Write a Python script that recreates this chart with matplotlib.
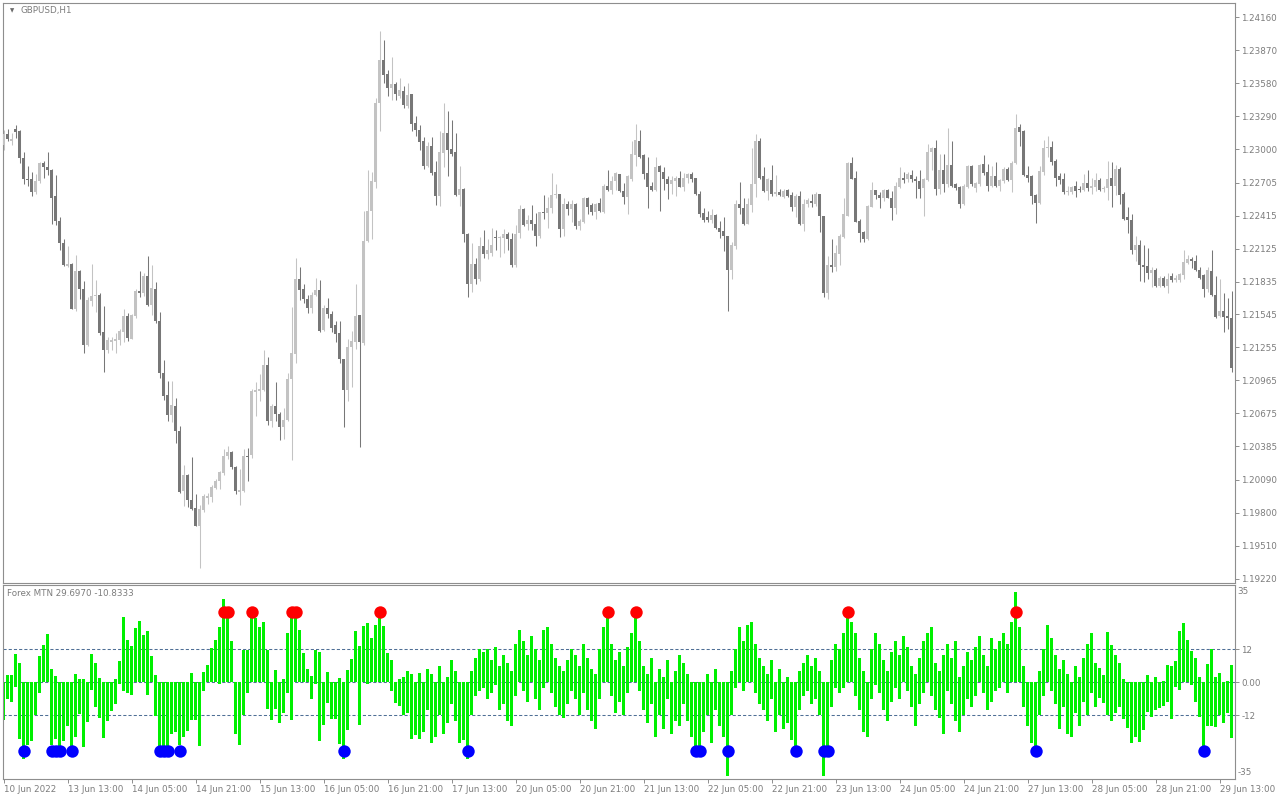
import matplotlib
matplotlib.use("Agg")
import matplotlib.pyplot as plt

# ---------------- data ----------------
symbol_title = "GBPUSD,H1"
indicator_title = "Forex MTN 29.6970 -10.8333"

opens = [
1.2304,1.2313,1.2307,1.2318,1.2316,1.2292,1.2274,1.2274,1.2262,1.2272,
1.2288,1.2284,1.2282,1.2259,1.2237,1.2217,1.2197,1.2199,1.2159,1.2193,
1.2177,1.2128,1.2166,1.2171,1.2172,1.2139,1.2123,1.2130,1.2131,1.2132,
1.2139,1.2153,1.2133,1.2153,1.2175,1.2173,1.2188,1.2163,1.2177,1.2149,
1.2103,1.2084,1.2066,1.2074,1.2052,1.1999,1.2013,1.1991,1.1984,1.1968,
1.1982,1.1993,1.1994,1.2002,1.2008,1.2015,1.2030,1.2033,1.2020,1.1998,
1.1999,1.2030,1.2031,1.2086,1.2087,1.2088,1.2110,1.2061,1.2074,1.2067,
1.2055,1.2062,1.2098,1.2120,1.2186,1.2177,1.2168,1.2160,1.2172,1.2176,
1.2141,1.2160,1.2155,1.2145,1.2138,1.2115,1.2088,1.2126,1.2130,1.2154,
1.2129,1.2219,1.2246,1.2271,1.2341,1.2379,1.2366,1.2354,1.2357,1.2347,
1.2351,1.2338,1.2349,1.2323,1.2317,1.2307,1.2285,1.2303,1.2280,1.2259,
1.2297,1.2314,1.2300,1.2298,1.2260,1.2265,1.2225,1.2181,1.2199,1.2186,
1.2215,1.2208,1.2209,1.2223,1.2222,1.2222,1.2225,1.2221,1.2198,1.2226,
1.2247,1.2234,1.2238,1.2234,1.2224,1.2245,1.2244,1.2248,1.2260,1.2261,
1.2230,1.2252,1.2247,1.2252,1.2232,1.2236,1.2257,1.2251,1.2245,1.2253,
1.2245,1.2268,1.2264,1.2272,1.2278,1.2263,1.2258,1.2274,1.2295,1.2307,
1.2295,1.2279,1.2268,1.2264,1.2285,1.2280,1.2274,1.2269,1.2272,1.2275,
1.2267,1.2275,1.2278,1.2275,1.2261,1.2244,1.2240,1.2238,1.2242,1.2231,
1.2228,1.2224,1.2194,1.2215,1.2252,1.2248,1.2234,1.2251,1.2269,1.2307,
1.2276,1.2263,1.2273,1.2261,1.2262,1.2258,1.2264,1.2260,1.2249,1.2259,
1.2234,1.2252,1.2254,1.2252,1.2261,1.2241,1.2173,1.2198,1.2196,1.2208,
1.2223,1.2241,1.2288,1.2275,1.2237,1.2227,1.2221,1.2249,1.2264,1.2260,
1.2257,1.2264,1.2257,1.2248,1.2267,1.2275,1.2274,1.2277,1.2274,1.2272,
1.2266,1.2273,1.2298,1.2301,1.2265,1.2282,1.2269,1.2286,1.2269,1.2267,
1.2252,1.2267,1.2285,1.2266,1.2269,1.2287,1.2280,1.2268,1.2276,1.2268,
1.2272,1.2283,1.2273,1.2288,1.2320,1.2316,1.2277,1.2276,1.2260,1.2253,
1.2280,1.2301,1.2302,1.2290,1.2276,1.2274,1.2262,1.2262,1.2268,1.2265,
1.2264,1.2270,1.2266,1.2267,1.2273,1.2265,1.2266,1.2275,1.2268,1.2283,
1.2261,1.2240,1.2238,1.2211,1.2216,1.2198,1.2197,1.2191,1.2194,1.2180,
1.2187,1.2180,1.2188,1.2185,1.2185,1.2189,1.2200,1.2203,1.2202,1.2194,
1.2189,1.2177,1.2193,1.2172,1.2153,1.2158,1.2153,1.2151]

highs = [
1.2317,1.2318,1.2314,1.2321,1.2317,1.2298,1.2285,1.2280,1.2278,1.2289,
1.2290,1.2298,1.2283,1.2277,1.2240,1.2221,1.2215,1.2200,1.2207,1.2194,
1.2184,1.2170,1.2199,1.2185,1.2173,1.2162,1.2135,1.2135,1.2138,1.2142,
1.2159,1.2156,1.2155,1.2177,1.2193,1.2191,1.2206,1.2198,1.2183,1.2157,
1.2114,1.2096,1.2096,1.2081,1.2056,1.2022,1.2014,1.2029,1.1996,1.1987,
1.1996,1.1997,1.2004,1.2010,1.2017,1.2036,1.2039,1.2034,1.2021,1.2018,
1.2036,1.2037,1.2089,1.2095,1.2102,1.2123,1.2117,1.2076,1.2095,1.2069,
1.2072,1.2103,1.2161,1.2204,1.2196,1.2181,1.2172,1.2174,1.2187,1.2185,
1.2163,1.2169,1.2158,1.2149,1.2149,1.2115,1.2133,1.2140,1.2181,1.2154,
1.2246,1.2282,1.2280,1.2345,1.2404,1.2396,1.2370,1.2381,1.2359,1.2363,
1.2356,1.2358,1.2349,1.2329,1.2321,1.2311,1.2306,1.2311,1.2290,1.2316,
1.2341,1.2334,1.2326,1.2314,1.2285,1.2266,1.2226,1.2217,1.2204,1.2223,
1.2229,1.2221,1.2231,1.2229,1.2224,1.2230,1.2227,1.2226,1.2233,1.2251,
1.2248,1.2242,1.2251,1.2244,1.2245,1.2260,1.2258,1.2279,1.2269,1.2261,
1.2257,1.2254,1.2255,1.2253,1.2239,1.2258,1.2258,1.2253,1.2253,1.2257,
1.2269,1.2282,1.2276,1.2280,1.2278,1.2270,1.2277,1.2307,1.2322,1.2317,
1.2296,1.2293,1.2271,1.2293,1.2286,1.2284,1.2276,1.2276,1.2276,1.2281,
1.2279,1.2279,1.2280,1.2275,1.2263,1.2248,1.2246,1.2247,1.2243,1.2237,
1.2240,1.2224,1.2218,1.2255,1.2271,1.2257,1.2257,1.2301,1.2313,1.2310,
1.2284,1.2275,1.2286,1.2277,1.2265,1.2265,1.2265,1.2262,1.2261,1.2263,
1.2256,1.2257,1.2261,1.2262,1.2261,1.2241,1.2206,1.2221,1.2216,1.2225,
1.2257,1.2289,1.2293,1.2281,1.2239,1.2228,1.2251,1.2271,1.2264,1.2262,
1.2265,1.2265,1.2263,1.2271,1.2284,1.2280,1.2280,1.2282,1.2276,1.2282,
1.2275,1.2305,1.2302,1.2308,1.2296,1.2296,1.2319,1.2307,1.2270,1.2268,
1.2269,1.2286,1.2286,1.2271,1.2287,1.2295,1.2287,1.2285,1.2289,1.2274,
1.2284,1.2284,1.2290,1.2331,1.2322,1.2317,1.2285,1.2277,1.2261,1.2285,
1.2308,1.2312,1.2307,1.2291,1.2279,1.2279,1.2268,1.2268,1.2272,1.2268,
1.2278,1.2282,1.2275,1.2279,1.2275,1.2268,1.2290,1.2289,1.2286,1.2284,
1.2262,1.2249,1.2243,1.2224,1.2220,1.2216,1.2213,1.2196,1.2195,1.2188,
1.2188,1.2191,1.2191,1.2189,1.2191,1.2211,1.2207,1.2205,1.2207,1.2196,
1.2190,1.2196,1.2211,1.2188,1.2186,1.2173,1.2169,1.2175]

lows = [
1.2299,1.2307,1.2304,1.2310,1.2288,1.2269,1.2268,1.2259,1.2261,1.2270,
1.2275,1.2277,1.2234,1.2233,1.2211,1.2197,1.2196,1.2159,1.2158,1.2168,
1.2121,1.2127,1.2162,1.2157,1.2136,1.2104,1.2121,1.2123,1.2121,1.2128,
1.2130,1.2131,1.2133,1.2151,1.2170,1.2171,1.2162,1.2154,1.2147,1.2099,
1.2079,1.2061,1.2060,1.2041,1.1997,1.1986,1.1985,1.1982,1.1968,1.1931,
1.1981,1.1988,1.1989,1.2001,1.2001,1.2013,1.2027,1.2018,1.1996,1.1987,
1.1998,1.2008,1.2028,1.2065,1.2078,1.2087,1.2057,1.2055,1.2061,1.2044,
1.2045,1.2061,1.2026,1.2112,1.2167,1.2165,1.2156,1.2156,1.2171,1.2139,
1.2140,1.2151,1.2139,1.2130,1.2112,1.2055,1.2078,1.2091,1.2124,1.2038,
1.2128,1.2218,1.2221,1.2266,1.2316,1.2358,1.2347,1.2343,1.2343,1.2345,
1.2336,1.2336,1.2316,1.2312,1.2299,1.2283,1.2284,1.2277,1.2251,1.2250,
1.2284,1.2276,1.2294,1.2259,1.2250,1.2218,1.2170,1.2174,1.2181,1.2184,
1.2204,1.2203,1.2206,1.2211,1.2205,1.2209,1.2211,1.2196,1.2196,1.2222,
1.2232,1.2229,1.2229,1.2215,1.2222,1.2239,1.2231,1.2244,1.2257,1.2223,
1.2224,1.2242,1.2236,1.2230,1.2229,1.2235,1.2243,1.2242,1.2239,1.2245,
1.2244,1.2263,1.2261,1.2264,1.2262,1.2252,1.2243,1.2272,1.2285,1.2292,
1.2274,1.2248,1.2263,1.2263,1.2246,1.2264,1.2256,1.2261,1.2259,1.2267,
1.2263,1.2270,1.2271,1.2260,1.2240,1.2236,1.2236,1.2235,1.2230,1.2222,
1.2210,1.2158,1.2186,1.2212,1.2243,1.2233,1.2234,1.2245,1.2258,1.2274,
1.2262,1.2255,1.2259,1.2259,1.2259,1.2257,1.2258,1.2246,1.2240,1.2233,
1.2228,1.2249,1.2249,1.2250,1.2227,1.2170,1.2168,1.2192,1.2193,1.2198,
1.2222,1.2241,1.2274,1.2236,1.2218,1.2218,1.2220,1.2249,1.2256,1.2248,
1.2254,1.2257,1.2238,1.2243,1.2266,1.2270,1.2271,1.2271,1.2257,1.2257,
1.2241,1.2272,1.2282,1.2260,1.2261,1.2262,1.2267,1.2267,1.2264,1.2248,
1.2251,1.2266,1.2268,1.2262,1.2268,1.2277,1.2263,1.2267,1.2267,1.2263,
1.2270,1.2272,1.2262,1.2287,1.2303,1.2276,1.2271,1.2252,1.2235,1.2252,
1.2277,1.2293,1.2286,1.2268,1.2269,1.2261,1.2260,1.2261,1.2258,1.2262,
1.2263,1.2263,1.2261,1.2263,1.2263,1.2262,1.2255,1.2249,1.2260,1.2252,
1.2238,1.2226,1.2208,1.2202,1.2184,1.2183,1.2186,1.2179,1.2179,1.2179,
1.2179,1.2173,1.2183,1.2183,1.2183,1.2186,1.2199,1.2195,1.2193,1.2186,
1.2170,1.2174,1.2171,1.2151,1.2152,1.2139,1.2142,1.2104]

closes = [
1.2313,1.2309,1.2309,1.2315,1.2292,1.2274,1.2273,1.2262,1.2272,1.2288,
1.2284,1.2282,1.2257,1.2237,1.2217,1.2198,1.2199,1.2159,1.2193,1.2177,
1.2128,1.2167,1.2171,1.2172,1.2138,1.2123,1.2132,1.2132,1.2133,1.2140,
1.2153,1.2134,1.2154,1.2175,1.2173,1.2188,1.2163,1.2178,1.2149,1.2103,
1.2083,1.2066,1.2075,1.2052,1.1998,1.2013,1.1991,1.1983,1.1968,1.1983,
1.1995,1.1995,1.2003,1.2008,1.2016,1.2030,1.2033,1.2020,1.1999,1.2000,
1.2030,1.2029,1.2087,1.2088,1.2089,1.2110,1.2061,1.2074,1.2067,1.2055,
1.2062,1.2098,1.2121,1.2186,1.2176,1.2168,1.2160,1.2172,1.2176,1.2140,
1.2160,1.2155,1.2143,1.2137,1.2115,1.2088,1.2126,1.2131,1.2153,1.2130,
1.2219,1.2246,1.2272,1.2341,1.2379,1.2365,1.2354,1.2357,1.2349,1.2352,
1.2339,1.2348,1.2322,1.2317,1.2306,1.2285,1.2303,1.2279,1.2259,1.2298,
1.2314,1.2299,1.2296,1.2260,1.2265,1.2225,1.2181,1.2199,1.2186,1.2215,
1.2208,1.2211,1.2216,1.2222,1.2223,1.2225,1.2221,1.2198,1.2225,1.2247,
1.2233,1.2238,1.2234,1.2224,1.2245,1.2244,1.2248,1.2260,1.2261,1.2230,
1.2252,1.2247,1.2252,1.2232,1.2237,1.2257,1.2249,1.2245,1.2252,1.2246,
1.2268,1.2264,1.2272,1.2279,1.2263,1.2258,1.2276,1.2296,1.2308,1.2293,
1.2278,1.2267,1.2264,1.2284,1.2280,1.2274,1.2269,1.2273,1.2275,1.2267,
1.2275,1.2278,1.2274,1.2261,1.2243,1.2238,1.2238,1.2242,1.2231,1.2227,
1.2224,1.2194,1.2216,1.2252,1.2248,1.2234,1.2252,1.2269,1.2307,1.2275,
1.2263,1.2274,1.2261,1.2262,1.2260,1.2263,1.2259,1.2249,1.2259,1.2234,
1.2252,1.2255,1.2253,1.2261,1.2241,1.2173,1.2198,1.2196,1.2209,1.2224,
1.2243,1.2288,1.2274,1.2236,1.2226,1.2221,1.2250,1.2264,1.2260,1.2257,
1.2264,1.2257,1.2248,1.2268,1.2275,1.2273,1.2278,1.2274,1.2272,1.2265,
1.2274,1.2298,1.2301,1.2265,1.2282,1.2269,1.2286,1.2268,1.2266,1.2252,
1.2268,1.2285,1.2269,1.2270,1.2286,1.2279,1.2268,1.2276,1.2268,1.2273,
1.2283,1.2273,1.2288,1.2319,1.2315,1.2277,1.2275,1.2259,1.2253,1.2281,
1.2301,1.2302,1.2289,1.2275,1.2273,1.2262,1.2263,1.2267,1.2263,1.2264,
1.2270,1.2266,1.2268,1.2273,1.2264,1.2266,1.2274,1.2268,1.2283,1.2260,
1.2239,1.2238,1.2211,1.2216,1.2198,1.2196,1.2191,1.2194,1.2180,1.2187,
1.2180,1.2186,1.2185,1.2187,1.2190,1.2201,1.2203,1.2202,1.2194,1.2187,
1.2177,1.2194,1.2172,1.2152,1.2158,1.2152,1.2151,1.2107]

# histogram: each bar spans from hist_low to hist_high
hist_high = [
0,2.5,2.5,10.3,7.0,0,0,0,0,9.5, 13.5,17.6,4.8,2.2,0,0,0,0,3.0,1.2,
1.2,0,10.3,7.0,1.6,0,0,0,1.2,7.6, 23.6,15.3,13.1,19.8,22.2,17.3,18.8,9.5,2.5,0,
0,0,0,0,0,0,0,3.4,0,0, 3.8,6.4,12.5,15.3,20.0,30.3,24.0,15.2,0,0,
11.9,11.9,23.6,23.4,20.0,21.9,11.9,0,4.6,0, 1.3,17.9,23.4,23.6,19.2,10.7,4.8,2.4,11.9,11.0,
0,3.8,0,0,1.6,0,4.6,8.5,18.8,13.1, 20.4,21.6,16.1,21.0,23.4,20.4,10.7,8.2,0,1.3,
1.8,4.2,3.0,0,3.4,
0,5,3,0,6,0,2,8,4,0, 0,0,4,9,12,
11,12,8,13,6,10,7,4,14,19, 15,10,17,12,8,19,20,14,9,6,
4,8,12,10,6,14,9,5,3,12, 20,26,14,8,11,6,13,18,26,15,
6,3,9,0,5,2,8,0,4,10, 7,3,0,0,0,0,3,0,5,0,
0,0,4,12,20,15,21,22,14,9, 6,3,8,0,5,0,2,0,0,4,
7,10,6,9,4,0,0,8,14,12, 18,27,22,18,9,4,0,12,18,14,
8,4,11,15,10,17,13,6,3,9, 15,18,20,7,4,10,14,9,15,2,
6,11,8,13,17,10,6,16,12,15, 18,14,22,33,20,6,0,0,0,4,
12,21,16,10,5,8,3,0,6,2, 9,14,18,7,
5.1,2.7,18.2,13.6,9.9,6.9,1.2,0,0,0, 0,0,2.7,0,2.0,0,0.5,6.3,5.9,7.7,
18.7,21.7,15.4,11.4,9.0,2.0,0,6.7,12.0,2.0, 3.3,0,0.5,6.3]
hist_low = [
-13.6,-6.0,-7.2,-1.8,-20.6,-28.1,-22.7,-21.5,-12.0,-3.9, 0,0,-22.7,-20.8,-23.6,-21.5,-15.8,-27.3,-19.9,-11.5,
-23.6,-14.4,-2.7,-9.1,-13.0,-20.2,-14.2,-10.3,-7.9,-0.8, -3.3,-3.9,-4.8,0,0,0,-4.5,0,-12.4,-23.3,
-23.3,-23.6,-19.0,-18.0,-22.7,-20.0,-17.8,-13.6,-13.9,-23.3, -3.3,0,0,0,-0.8,0,0,0,-19.0,-22.9,
-11.8,-3.9,0,0,0,0,-9.9,-13.6,-9.9,-14.8, -11.2,-3.9,-13.9,0,0,0,0,-6.1,-0.8,-21.2,
-15.4,-7.5,-13.2,-13.2,-22.4,-28.0,-17.2,0,0,-15.6, 0,-0.8,0,0,0,0,0,-3.3,-7.5,-8.7,
-11.8,-11.2,-20.8,-19.3,-20.6,
-18,-10,-22,-20,-12,-19,-15,-8,-14,-22, -21,-28,-12,-5,-3,
-2,-6,-4,-1,-10,-8,-14,-16,-5,0, -3,-7,0,-6,-10,-2,0,-4,-9,-12,
-13,-8,-3,-6,-12,-4,-10,-14,-17,-6, 0,0,-5,-11,-7,-12,-4,0,0,-3,
-10,-15,-8,-20,-12,-17,-6,-19,-14,-16, -8,-14,-20,-26,-25,-18,-12,-22,-10,-16,
-20,-34,-12,-2,0,-3,0,0,-4,-8, -10,-14,-6,-18,-12,-17,-15,-21,-26,-10,
-5,-3,-8,-6,-12,-34,-26,-9,-2,-4, -2,0,0,-5,-10,-18,-20,-6,-1,-4,
-10,-14,-7,-2,-6,0,-3,-9,-16,-8, -4,0,-5,-10,-13,-19,-3,-8,-14,-18,
-12,-6,-9,-5,0,-4,-10,-7,-3,-2, 0,-4,0,0,0,-9,-16,-22,-27,-12,
-5,0,-3,-8,-17,-9,-19,-20,-11,-16, -7,-12,-4,-9,
-5.8,-7.4,-11.9,-14.0,-11.1,-8.9,-13.5,-16.7,-22.2,-19.8, -21.9,-17.3,-10.7,-12.5,-10.1,-9.5,-8.6,-7.0,-13.5,-1.8,
-2.8,0,0,-1.0,-7.0,-12.5,-27.0,-15.8,-15.8,-16.4, -11.9,-14.7,-11.1,-20.4]

red_dot_bars = [55, 56, 62, 72, 73, 94, 151, 158, 211, 253]
blue_dot_bars = [5, 12, 13, 14, 17, 39, 40, 41, 44, 85, 116, 173, 174, 181, 198, 205, 206, 258, 300]
red_dot_level = 25.5
blue_dot_level = -25.0

price_ticks = [1.24160, 1.23870, 1.23580, 1.23290, 1.23000, 1.22705, 1.22415,
               1.22125, 1.21835, 1.21545, 1.21255, 1.20965, 1.20675, 1.20385,
               1.20090, 1.19800, 1.19510, 1.19220]
ind_ticks = [12, 0, -12]
ind_tick_labels = ["12", "0.00", "-12"]
ind_levels = [12, 0, -12]
time_labels = ["10 Jun 2022", "13 Jun 13:00", "14 Jun 05:00", "14 Jun 21:00",
               "15 Jun 13:00", "16 Jun 05:00", "16 Jun 21:00", "17 Jun 13:00",
               "20 Jun 05:00", "20 Jun 21:00", "21 Jun 13:00", "22 Jun 05:00",
               "22 Jun 21:00", "23 Jun 13:00", "24 Jun 05:00", "24 Jun 21:00",
               "27 Jun 13:00", "28 Jun 05:00", "28 Jun 21:00", "29 Jun 13:00"]
time_label_step = 16

# ---------------- style ----------------
BULL = "#c3c3c3"
BEAR = "#777777"
GREEN = "#00f000"
FRAME = "#8e8e8e"
TXT = "#7c7c7c"
LEVEL = "#4f6f96"
FS = 6.3

W, H = 1280, 800
plt.rcParams["font.family"] = ["DejaVu Sans"]
fig = plt.figure(figsize=(W / 100, H / 100), dpi=100)
fig.patch.set_facecolor("white")

def frac_rect(x0, y0, x1, y1):
    return [x0 / W, 1 - y1 / H, (x1 - x0) / W, (y1 - y0) / H]

ax = fig.add_axes(frac_rect(2.5, 2.5, 1234.5, 582.5))
ax2 = fig.add_axes(frac_rect(2.5, 585.0, 1234.5, 779.0))

n = len(closes)
xlim = (-0.25, 307.75)

# ---- candles ----
for i in range(n):
    o, h, l, c = opens[i], highs[i], lows[i], closes[i]
    col = BULL if c >= o else BEAR
    ax.vlines(i, l, h, color=col, linewidth=0.75, zorder=2)
    lo, hi = min(o, c), max(o, c)
    hgt = max(hi - lo, 0.00006)
    ax.bar(i, hgt, bottom=lo, width=0.75, color=col, linewidth=0, zorder=3)

ax.set_xlim(*xlim)
ax.set_ylim(1.19185, 1.24292)
ax.yaxis.tick_right()
ax.set_yticks(price_ticks)
ax.set_yticklabels([f"{p:.5f}" for p in price_ticks])
ax.tick_params(axis="y", direction="out", length=3, width=0.7, colors=FRAME,
               labelcolor=TXT, labelsize=FS, pad=2)
ax.set_xticks([])
for s in ax.spines.values():
    s.set_color(FRAME)
    s.set_linewidth(0.8)
ax.text(18 / 1232, 1 - 8 / 580, symbol_title, transform=ax.transAxes,
        fontsize=FS, color=TXT, va="center", ha="left")
ax.text(7 / 1232, 1 - 8 / 580, "\u25bc", transform=ax.transAxes,
        fontsize=4, color="#6a6a6a", va="center", ha="left")

# ---- indicator ----
m = min(len(hist_high), len(hist_low))
hx = list(range(m))
heights = [hist_high[i] - hist_low[i] for i in hx]
ax2.bar(hx, heights, bottom=hist_low[:m], width=0.78,
        color=GREEN, linewidth=0, zorder=2)
for lv in ind_levels:
    ax2.axhline(lv, color=LEVEL, linewidth=0.75, linestyle=(0, (3, 2)), zorder=1)
ax2.scatter(red_dot_bars, [red_dot_level] * len(red_dot_bars), s=80,
            color="#ff0000", zorder=4, linewidths=0)
ax2.scatter(blue_dot_bars, [blue_dot_level] * len(blue_dot_bars), s=80,
            color="#0000ff", zorder=4, linewidths=0)
ax2.set_xlim(*xlim)
ax2.set_ylim(-35.2, 35.4)
ax2.yaxis.tick_right()
ax2.set_yticks(ind_ticks)
ax2.set_yticklabels(ind_tick_labels)
ax2.tick_params(axis="y", direction="out", length=3, width=0.7, colors=FRAME,
                labelcolor=TXT, labelsize=FS, pad=2)
ax2.text(1.0 + 3 / 1232, 1 - 2 / 194, "35", transform=ax2.transAxes,
         fontsize=FS, color=TXT, va="top", ha="left")
ax2.text(1.0 + 3 / 1232, 2 / 194, "-35", transform=ax2.transAxes,
         fontsize=FS, color=TXT, va="bottom", ha="left")
tick_pos = [k * time_label_step for k in range(len(time_labels))]
ax2.set_xticks(tick_pos)
ax2.set_xticklabels(time_labels)
ax2.tick_params(axis="x", direction="out", length=3, width=0.7, colors=FRAME,
                labelcolor=TXT, labelsize=FS, pad=1.5)
for lab in ax2.get_xticklabels():
    lab.set_ha("left")
for s in ax2.spines.values():
    s.set_color(FRAME)
    s.set_linewidth(0.8)
ax2.text(5 / 1232, 1 - 8 / 194, indicator_title, transform=ax2.transAxes,
         fontsize=FS, color=TXT, va="center", ha="left")

fig.savefig("out.png", dpi=100, facecolor="white")
